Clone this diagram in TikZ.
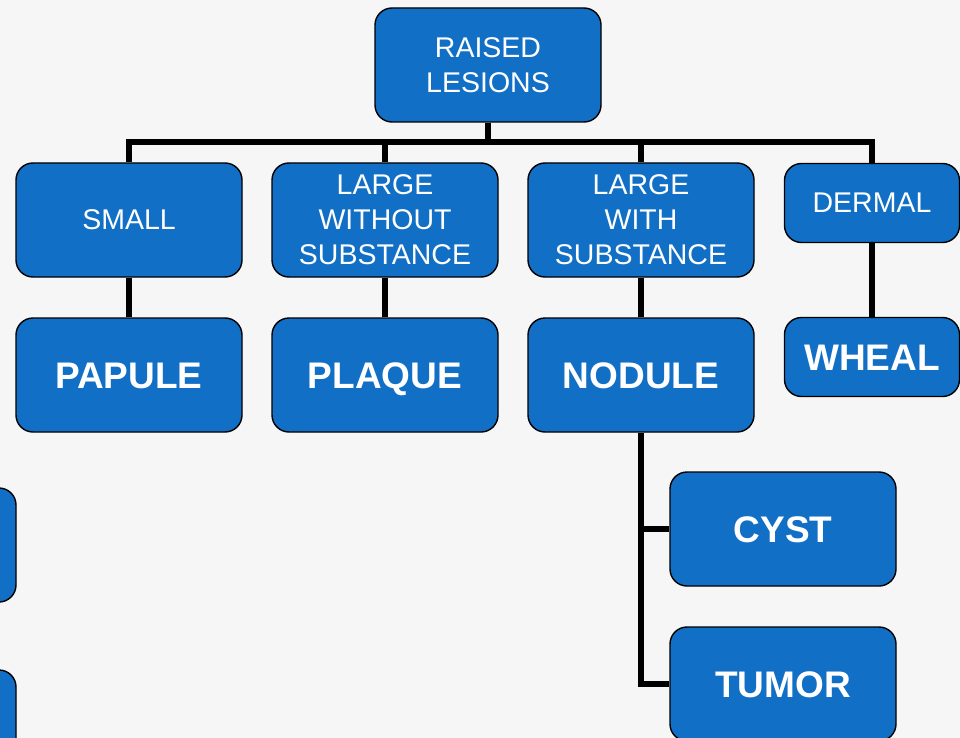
\documentclass[tikz,border=0pt]{standalone}
\usepackage{fontspec}
\setmainfont{Liberation Sans}
\definecolor{boxblue}{RGB}{18,111,198}
\definecolor{bg}{RGB}{246,246,246}
\pgfdeclarelayer{back}
\pgfsetlayers{back,main}
\begin{document}
\begin{tikzpicture}[x=1pt,y=-1pt,
  box/.style={draw=black, line width=1.4pt, fill=boxblue, rounded corners=17pt,
    minimum width=226pt, minimum height=114pt, text=white, align=center,
    inner sep=0pt, font=\fontsize{28.5}{35}\selectfont},
  boldtext/.style={font=\fontsize{37}{40}\selectfont\bfseries, text height=27pt, text depth=0pt},
  bigbox/.style={box, boldtext},
  smallbox/.style={box, minimum width=175pt, minimum height=79pt},
  link/.style={line width=5.5pt, draw=black}]
\useasboundingbox (0,0) rectangle (960,738);
\clip (0,0) rectangle (960,738);
\node[box] (root) at (488,65) {RAISED\\LESIONS};
\node[box] (small) at (129,220) {SMALL};
\node[box] (lwo) at (385,220) {LARGE\\WITHOUT\\SUBSTANCE};
\node[box] (lw) at (641,220) {LARGE\\WITH\\SUBSTANCE};
\node[smallbox] (dermal) at (872,203) {DERMAL};
\node[bigbox] (papule) at (129,375) {PAPULE};
\node[bigbox] (plaque) at (385,375) {PLAQUE};
\node[bigbox] (nodule) at (641,375) {NODULE};
\node[smallbox, boldtext] (wheal) at (872,357) {WHEAL};
\node[bigbox] (cyst) at (783,529) {CYST};
\node[bigbox] (tumor) at (783,684) {TUMOR};
\node[box] (left1) at (-97,545) {};
\node[box] (left2) at (-97,727) {};
\coordinate (bus) at (488,142);
\begin{pgfonlayer}{back}
\fill[bg] (0,0) rectangle (960,738);
\draw[link] (root.south) -- (bus);
\draw[link] (small.north) |- (bus) -| (dermal.north);
\draw[link] (lwo.north) -- (lwo.north |- bus);
\draw[link] (lw.north) -- (lw.north |- bus);
\draw[link] (small.south) -- (papule.north);
\draw[link] (lwo.south) -- (plaque.north);
\draw[link] (lw.south) -- (nodule.north);
\draw[link] (dermal.south) -- (wheal.north);
\draw[link] (nodule.south) |- (tumor.west);
\draw[link] (nodule.south |- cyst.west) -- (cyst.west);
\end{pgfonlayer}
\end{tikzpicture}
\end{document}
